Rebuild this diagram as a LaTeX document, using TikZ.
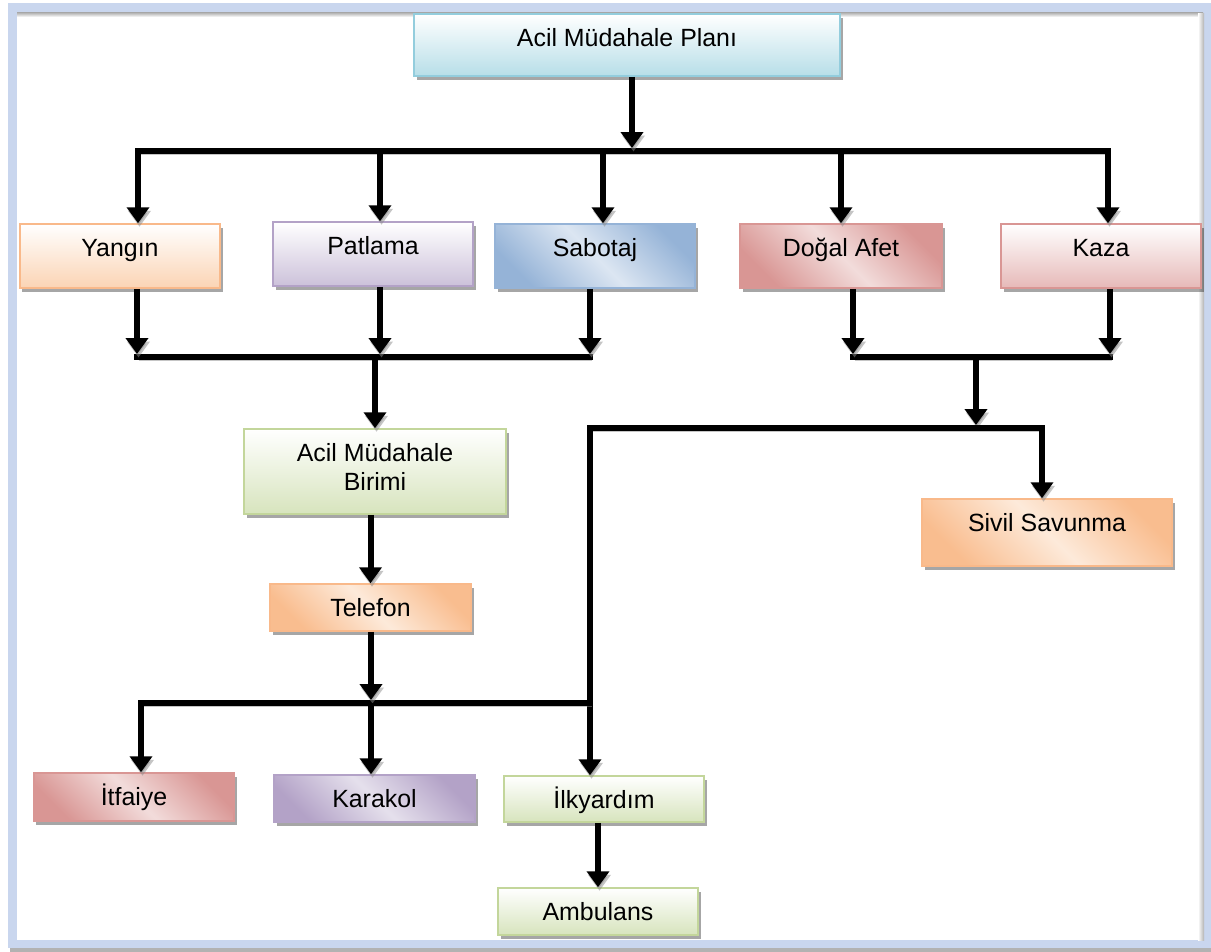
\documentclass[tikz,border=0pt]{standalone}
\usepackage{fontspec}
\setmainfont{Liberation Sans}
\usetikzlibrary{arrows.meta,shadows}
\definecolor{frameblue}{HTML}{C9D6EE}
\definecolor{cyanB}{HTML}{93CDDD}
\definecolor{cyanF}{HTML}{B7DEE8}
\definecolor{orangeB}{HTML}{F9B98A}
\definecolor{orangeF}{HTML}{FBD4B4}
\definecolor{orangeD}{HTML}{F9BD8F}
\definecolor{orangeM}{HTML}{FDEADA}
\definecolor{purpleB}{HTML}{B3A2C7}
\definecolor{purpleF}{HTML}{CCC1DA}
\definecolor{purpleM}{HTML}{E5E0EC}
\definecolor{blueB}{HTML}{95B3D7}
\definecolor{blueM}{HTML}{DCE6F2}
\definecolor{redB}{HTML}{D99694}
\definecolor{redF}{HTML}{E6B9B8}
\definecolor{redM}{HTML}{F2DCDB}
\definecolor{greenB}{HTML}{C3D69B}
\definecolor{greenF}{HTML}{D7E4BD}
\begin{document}
\begin{tikzpicture}[x=1bp,y=-1bp,
  box/.style={draw, line width=1.5bp, inner sep=0pt, text height=32bp,
    font=\fontsize{25}{30}\selectfont,
    drop shadow={shadow xshift=2.5bp, shadow yshift=-4bp, opacity=0.35, fill=black}},
  sz/.style n args={3}{minimum width=#1bp, minimum height=#2bp, text depth=#3bp},
  vgrad/.style n args={2}{draw=#1, top color=white, bottom color=#2},
  dgrad/.style n args={3}{draw=#1, top color=#2, bottom color=#2, middle color=#3, shading angle=-45},
  lsh/.style={preaction={draw=black!45, opacity=0.5, transform canvas={shift={(1.5bp,-3.5bp)}}}},
  ln/.style={line width=6bp, line cap=rect, lsh},
  arr/.style={line width=6bp, -{Triangle[width=22bp,length=16bp]}, lsh}]
\useasboundingbox (0,0) rectangle (1211,952);
% frame
\fill[white] (0,0) rectangle (1211,952);
\fill[black!30] (10,6) rectangle (1211,952);
\fill[frameblue] (8,3) rectangle (1211,948);
\fill[white] (17,13) rectangle (1203,940);
\shade[top color=black!35, bottom color=white] (17,12) rectangle (1203,17);
\shade[left color=white, right color=black!30] (1198,13) rectangle (1204,940);
% boxes
\node[box, sz={426}{62}{30}, vgrad={cyanB}{cyanF}] (plan) at (627,45) {Acil Müdahale Planı};
\node[box, sz={200}{64}{32}, vgrad={orangeB}{orangeF}] (yangin) at (120,256) {Yangın};
\node[box, sz={200}{64}{32}, vgrad={purpleB}{purpleF}] (patlama) at (373,254) {Patlama};
\node[box, sz={200}{64}{32}, dgrad={blueB}{blueB}{blueM}] (sabotaj) at (595,256) {Sabotaj};
\node[box, sz={202}{64}{32}, dgrad={redB}{redB}{redM}] (dogal) at (841,256) {Doğal Afet};
\node[box, sz={200}{64}{32}, vgrad={redB}{redF}] (kaza) at (1101,256) {Kaza};
\node[box, sz={262}{85}{53}, vgrad={greenB}{greenF}] (birimi) at (375,471.5)
  {\begin{tabular}[t]{@{}c@{}}Acil Müdahale\\Birimi\end{tabular}};
\node[box, sz={201}{47}{15}, dgrad={orangeB}{orangeD}{orangeM}] (telefon) at (370.5,607.5) {Telefon};
\node[box, sz={250}{67}{35}, dgrad={orangeB}{orangeD}{orangeM}] (sivil) at (1047,532.5) {Sivil Savunma};
\node[box, sz={200}{48}{16}, dgrad={redB}{redB}{redM}] (itfaiye) at (134,797) {İtfaiye};
\node[box, sz={201}{47}{15}, dgrad={purpleB}{purpleB}{purpleM}] (karakol) at (374.5,798.5) {Karakol};
\node[box, sz={200}{46}{14}, vgrad={greenB}{greenF}] (ilk) at (604,799) {İlkyardım};
\node[box, sz={200}{47}{15}, vgrad={greenB}{greenF}] (ambulans) at (598,911.5) {Ambulans};
% top distribution
\coordinate (b1a) at (138,151);
\coordinate (b1b) at (380,151);
\coordinate (b1c) at (603,151);
\coordinate (b1d) at (841,151);
\coordinate (b1e) at (1108,151);
\coordinate (b1m) at (632,148);
\draw[ln] (b1a) -- (b1e);
\draw[arr] (plan.south -| b1m) -- (b1m);
\draw[arr] (b1a) -- (b1a |- yangin.north);
\draw[arr] (b1b) -- (b1b |- patlama.north);
\draw[arr] (b1c) -- (b1c |- sabotaj.north);
\draw[arr] (b1d) -- (b1d |- dogal.north);
\draw[arr] (b1e) -- (b1e |- kaza.north);
% left merge
\coordinate (c2a) at (137,357);
\coordinate (c2b) at (380,357);
\coordinate (c2c) at (590,357);
\coordinate (c2m) at (375,357);
\coordinate (c2at) at (137,354);
\coordinate (c2bt) at (380,354);
\coordinate (c2ct) at (590,354);
\draw[ln] (c2a) -- (c2c);
\draw[arr] (yangin.south -| c2a) -- (c2at);
\draw[arr] (patlama.south -| c2b) -- (c2bt);
\draw[arr] (sabotaj.south -| c2c) -- (c2ct);
\draw[arr] (c2m) -- (c2m |- birimi.north);
% right merge
\coordinate (d2a) at (853,357);
\coordinate (d2b) at (1110,357);
\coordinate (d2m) at (976,357);
\coordinate (d2at) at (853,354);
\coordinate (d2bt) at (1110,354);
\draw[ln] (d2a) -- (d2b);
\draw[arr] (dogal.south -| d2a) -- (d2at);
\draw[arr] (kaza.south -| d2b) -- (d2bt);
\coordinate (e3a) at (590,428);
\coordinate (e3b) at (1042,428);
\coordinate (e3m) at (976,425);
\draw[arr] (d2m) -- (e3m);
\draw[ln] (e3a) -- (e3b);
\draw[arr] (e3b) -- (e3b |- sivil.north);
\draw[arr] (e3a) -- (e3a |- ilk.north);
% Birimi -> Telefon
\draw[arr] (birimi.south -| telefon.north) -- (telefon.north);
% bottom distribution
\coordinate (f4a) at (141,703);
\coordinate (f4b) at (371,703);
\coordinate (f4c) at (590,703);
\coordinate (f4m) at (371,700);
\draw[ln] (f4a) -- (f4c);
\draw[arr] (telefon.south -| f4m) -- (f4m);
\draw[arr] (f4a) -- (f4a |- itfaiye.north);
\draw[arr] (f4b) -- (f4b |- karakol.north);
% Ilkyardim -> Ambulans
\draw[arr] (ambulans.north |- ilk.south) -- (ambulans.north);
\end{tikzpicture}
\end{document}
